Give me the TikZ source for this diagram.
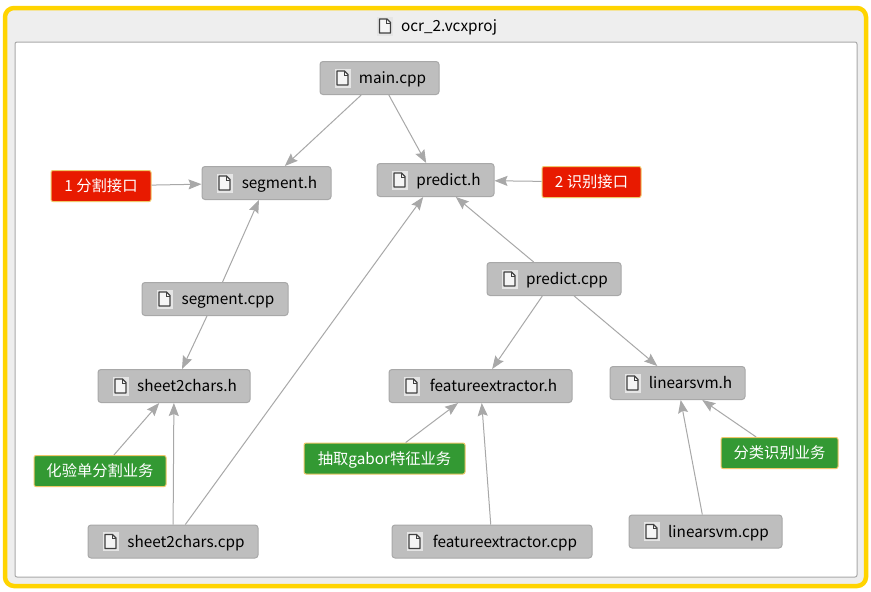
\documentclass[tikz,border=0pt]{standalone}
\usepackage{fontspec}
\setmainfont{Noto Sans CJK SC}
\usetikzlibrary{arrows.meta}
\definecolor{boxgray}{HTML}{BEBEBE}
\definecolor{boxline}{HTML}{A8A8A8}
\definecolor{linkgray}{HTML}{A8A8A8}
\definecolor{noteline}{HTML}{EFC76A}
\definecolor{notered}{HTML}{E81A00}
\definecolor{notegreen}{HTML}{339933}
\definecolor{framegold}{HTML}{FFD400}
\definecolor{framegray}{HTML}{EEEEEE}
\begin{document}
\begin{tikzpicture}[
                x=1pt,
                y=-1pt,
                every node/.style={font=\fontsize{15.3pt}{18pt}\selectfont, inner sep=0pt, text height=14pt, text depth=3pt},
                filebox/.style={rectangle, draw=boxline, fill=boxgray, rounded corners=3pt, line width=1pt, minimum height=33pt},
                redbox/.style={rectangle, draw=noteline, fill=notered, text=white, rounded corners=2pt, line width=1pt, minimum height=31pt},
                greenbox/.style={rectangle, draw=noteline, fill=notegreen, text=white, rounded corners=2pt, line width=1pt, minimum height=31pt},
                link/.style={draw=linkgray, line width=1pt, -{Stealth[length=13pt,width=10pt,inset=2pt]}},
                fileicon/.pic={
                    \draw[draw=white!90!black, fill=white!90!black] (-7.5,-9) rectangle (7.5,9);
                    \draw[draw=black!75, fill=black!4, line width=1.3pt, line join=round] (-5.5,-7) -- (2,-7) -- (5.5,-3.5) -- (5.5,7) -- (-5.5,7) -- cycle;
                    \draw[draw=black!75, line width=1pt] (1.5,-7) -- (1.5,-3) -- (5.5,-3);
                }
            ]
                \useasboundingbox (0,0) rectangle (871,592);
                % frame
                \node[rectangle, draw=framegold, fill=framegray, rounded corners=9pt, line width=4.5pt, minimum width=861pt, minimum height=578pt] (outer) at (435.5,297) {};
                \node[rectangle, draw=boxline, fill=white, rounded corners=2pt, line width=1pt, minimum width=842pt, minimum height=535pt] (inner) at (436,309.5) {};
                \node (title) at (436,26) {\hspace*{26pt}ocr\_2.vcxproj};
                % files
                \node[filebox, minimum width=119pt] (main) at (379.5,78) {\hspace*{26pt}main.cpp};
                \node[filebox, minimum width=129pt] (segmenth) at (266.5,183) {\hspace*{26pt}segment.h};
                \node[filebox, minimum width=117pt] (predicth) at (435.5,180) {\hspace*{26pt}predict.h};
                \node[filebox, minimum width=146pt] (segmentcpp) at (215,299) {\hspace*{26pt}segment.cpp};
                \node[filebox, minimum width=134pt] (predictcpp) at (554,279) {\hspace*{26pt}predict.cpp};
                \node[filebox, minimum width=152pt] (sheeth) at (174,386) {\hspace*{26pt}sheet2chars.h};
                \node[filebox, minimum width=183pt] (featureh) at (480.5,386) {\hspace*{26pt}featureextractor.h};
                \node[filebox, minimum width=135pt] (svmh) at (677.5,383) {\hspace*{26pt}linearsvm.h};
                \node[filebox, minimum width=170pt] (sheetcpp) at (173,541.5) {\hspace*{26pt}sheet2chars.cpp};
                \node[filebox, minimum width=200pt] (featurecpp) at (492,541.5) {\hspace*{26pt}featureextractor.cpp};
                \node[filebox, minimum width=153pt] (svmcpp) at (705.5,531.5) {\hspace*{26pt}linearsvm.cpp};
                % notes
                \node[redbox, minimum width=100pt] (segnote) at (101,186) {1 分割接口};
                \node[redbox, minimum width=99pt] (prednote) at (591.5,182) {2 识别接口};
                \node[greenbox, minimum width=132pt] (labnote) at (100,471) {化验单分割业务};
                \node[greenbox, minimum width=161pt] (gabornote) at (384.5,458.5) {抽取gabor特征业务};
                \node[greenbox, minimum width=117pt] (classnote) at (779.5,453) {分类识别业务};
                % icons
                \pic at ([xshift=-51pt]title.center) {fileicon};
                \foreach \f in {main,segmenth,predicth,segmentcpp,predictcpp,sheeth,featureh,svmh,sheetcpp,featurecpp,svmcpp}
                    \pic at ([xshift=23pt]\f.west) {fileicon};
                % links
                \draw[link] (main) -- (segmenth);
                \draw[link] (main) -- (predicth);
                \draw[link] (segnote) -- (segmenth);
                \draw[link] (prednote) -- (predicth);
                \draw[link] (segmentcpp) -- (segmenth);
                \draw[link] (segmentcpp) -- (sheeth);
                \draw[link] (labnote) -- (sheeth);
                \draw[link] (sheetcpp) -- (sheeth);
                \draw[link] (sheetcpp) -- (predicth);
                \draw[link] (predictcpp) -- (predicth);
                \draw[link] (predictcpp) -- (featureh);
                \draw[link] (predictcpp) -- (svmh);
                \draw[link] (gabornote) -- (featureh);
                \draw[link] (featurecpp) -- (featureh);
                \draw[link] (svmcpp) -- (svmh);
                \draw[link] (classnote) -- (svmh);
            \end{tikzpicture}
\end{document}
